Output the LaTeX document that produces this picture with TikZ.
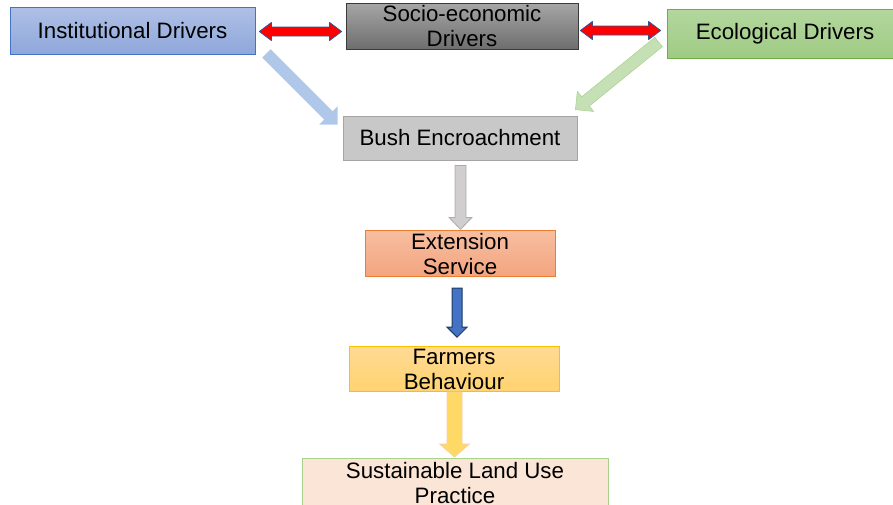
\documentclass[tikz,border=0pt]{standalone}
\usepackage{fontspec}
\setmainfont{Liberation Sans}
\usetikzlibrary{positioning, calc}

\definecolor{instline}{HTML}{4472C4}
\definecolor{instup}{HTML}{AFC0E6}
\definecolor{instdown}{HTML}{8EA7DA}
\definecolor{socioline}{HTML}{3A3A3A}
\definecolor{socioup}{HTML}{A6A6A6}
\definecolor{sociodown}{HTML}{6E6E6E}
\definecolor{ecoline}{HTML}{70AD47}
\definecolor{ecoup}{HTML}{B3D79E}
\definecolor{ecodown}{HTML}{9FCB84}
\definecolor{bushfill}{HTML}{C8C8C8}
\definecolor{bushline}{HTML}{A5A5A5}
\definecolor{extline}{HTML}{ED7D31}
\definecolor{extup}{HTML}{F6BEA0}
\definecolor{extdown}{HTML}{F4A47F}
\definecolor{farmline}{HTML}{FFC000}
\definecolor{farmup}{HTML}{FFDA94}
\definecolor{farmdown}{HTML}{FFD36F}
\definecolor{landfill}{HTML}{FBE5D6}
\definecolor{landline}{HTML}{A9D18E}
\definecolor{arrowedge}{HTML}{2F5597}
\definecolor{paleblue}{HTML}{AFC8EA}
\definecolor{palegreen}{HTML}{C5E0B4}
\definecolor{palegreenline}{HTML}{A9D18E}
\definecolor{grayfill}{HTML}{D0CECE}
\definecolor{grayline}{HTML}{AFABAB}
\definecolor{navyfill}{HTML}{4472C4}
\definecolor{navyline}{HTML}{1F3864}
\definecolor{yellowfill}{HTML}{FFD966}
\definecolor{yellowline}{HTML}{F8CBAD}

\tikzstyle{box} = [rectangle, inner sep=0pt, align=center, line width=0.8pt, font=\fontsize{22.3}{25}\selectfont]
\tikzstyle{instbox} = [box, draw=instline, top color=instup, bottom color=instdown]
\tikzstyle{sociobox} = [box, draw=socioline, top color=socioup, bottom color=sociodown]
\tikzstyle{ecobox} = [box, draw=ecoline, top color=ecoup, bottom color=ecodown]
\tikzstyle{bushbox} = [box, draw=bushline, fill=bushfill]
\tikzstyle{extbox} = [box, draw=extline, top color=extup, bottom color=extdown]
\tikzstyle{farmbox} = [box, draw=farmline, top color=farmup, bottom color=farmdown]
\tikzstyle{landbox} = [box, draw=landline, fill=landfill]
\tikzstyle{redarrow} = [fill=red, draw=arrowedge, line width=0.8pt, line join=round]
\tikzstyle{bluearrow} = [fill=paleblue]
\tikzstyle{greenarrow} = [fill=palegreen, draw=palegreenline, line width=0.5pt]
\tikzstyle{grayarrow} = [fill=grayfill, draw=grayline, line width=0.8pt]
\tikzstyle{navyarrow} = [fill=navyfill, draw=navyline, line width=1pt]
\tikzstyle{yellowarrow} = [fill=yellowfill, draw=yellowline, line width=0.6pt]

% block arrow: style, from, to, shaft half width, head half width, head length
\newcommand{\fatarrow}[6]{%
  \coordinate (ba) at (#2);
  \coordinate (bb) at (#3);
  \coordinate (bh) at ($(bb)!#6!(ba)$);
  \path[#1] ($(ba)!#4!90:(bb)$) -- ($(bh)!#4!-90:(ba)$) -- ($(bh)!#5!-90:(ba)$) -- (bb)
    -- ($(bh)!#5!90:(ba)$) -- ($(bh)!#4!90:(ba)$) -- ($(ba)!#4!-90:(bb)$) -- cycle;}
% same with a head at both ends
\newcommand{\fatdarrow}[6]{%
  \coordinate (ba) at (#2);
  \coordinate (bb) at (#3);
  \coordinate (bh) at ($(bb)!#6!(ba)$);
  \coordinate (bt) at ($(ba)!#6!(bb)$);
  \path[#1] (ba) -- ($(bt)!#5!90:(bb)$) -- ($(bt)!#4!90:(bb)$) -- ($(bh)!#4!-90:(ba)$)
    -- ($(bh)!#5!-90:(ba)$) -- (bb) -- ($(bh)!#5!90:(ba)$) -- ($(bh)!#4!90:(ba)$)
    -- ($(bt)!#4!-90:(bb)$) -- ($(bt)!#5!-90:(bb)$) -- cycle;}

\begin{document}
\begin{tikzpicture}[x=1pt, y=-1pt]
\useasboundingbox (0,0) rectangle (893,504);

\node (inst) [instbox, minimum width=245pt, minimum height=47pt] at (132.5,30.5) {Institutional Drivers};
\node (socio) [sociobox, minimum width=232pt, minimum height=46pt] at (462,26) {Socio-economic\\Drivers};
\node (eco) [ecobox, minimum width=236pt, minimum height=49pt] at (785,33.5) {Ecological Drivers};
\node (bush) [bushbox, minimum width=234pt, minimum height=44pt] at (460,138) {Bush Encroachment};
\node (ext) [extbox, minimum width=190pt, minimum height=46pt, below=70pt of bush] {Extension\\Service};
\node (farm) [farmbox, minimum width=210pt, minimum height=45pt, below=69pt of ext, xshift=-6pt] {Farmers\\Behaviour};
\node (land) [landbox, minimum width=306pt, minimum height=50pt, below=66pt of farm, xshift=1pt] {Sustainable Land Use\\Practice};

\fatdarrow{redarrow}{$(inst.east)+(4,1)$}{$(socio.west)+(-4,5.5)$}{4.5pt}{9pt}{12pt}
\fatdarrow{redarrow}{$(socio.east)+(2,4.5)$}{$(eco.west)+(-6,-3)$}{4.5pt}{9pt}{12pt}
\fatarrow{bluearrow}{$(inst.south east)+(11,-1)$}{$(bush.north west)+(-5,9)$}{6pt}{13pt}{13pt}
\fatarrow{greenarrow}{$(eco.west)+(-8,8.5)$}{$(bush.north east)+(-2,-6)$}{6pt}{13pt}{13pt}
\fatarrow{grayarrow}{$(bush.south)+(0.5,5)$}{$(ext.north)+(0.5,-1)$}{5.5pt}{11.5pt}{12pt}
\fatarrow{navyarrow}{$(ext.south)+(-3,11)$}{$(farm.north)+(3,-9)$}{5pt}{10pt}{10pt}
\fatarrow{yellowarrow}{$(farm.south)+(0.5,0)$}{$(land.north)+(-0.5,-1)$}{7.5pt}{15pt}{13pt}

\end{tikzpicture}
\end{document}
